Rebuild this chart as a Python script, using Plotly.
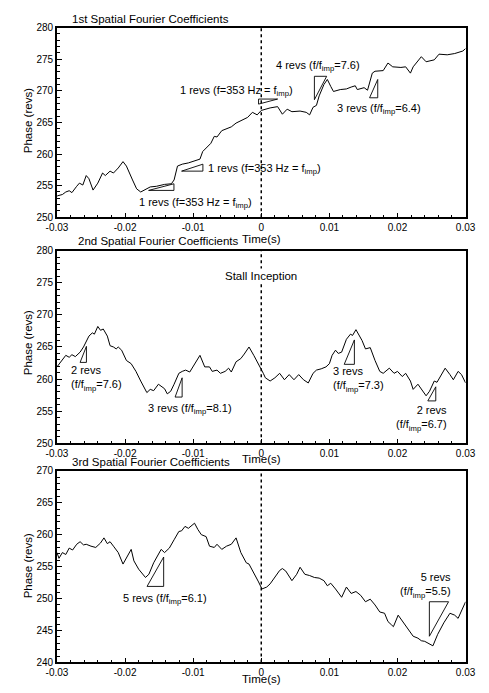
import plotly.graph_objects as go

# ---------------- data ----------------
t1 = [-0.0300, -0.0299, -0.0292, -0.0287, -0.0282, -0.0278, -0.0271, -0.0267, -0.0262, -0.0257,
      -0.0253, -0.0247, -0.0240, -0.0233, -0.0229, -0.0222, -0.0217, -0.0210, -0.0203, -0.0198,
      -0.0189, -0.0183, -0.0177, -0.0171, -0.0163, -0.0154, -0.0142, -0.0132, -0.0128, -0.0123,
      -0.0116, -0.0107, -0.0097, -0.0090, -0.0086, -0.0079, -0.0074, -0.0069, -0.0065, -0.0058,
      -0.0048, -0.0044, -0.0037, -0.0030, -0.0020, -0.0013, -0.0006, 0.0000, 0.0013, 0.0024,
      0.0031, 0.0038, 0.0045, 0.0057, 0.0066, 0.0071, 0.0076, 0.0081, 0.0085, 0.0092,
      0.0097, 0.0102, 0.0106, 0.0116, 0.0125, 0.0132, 0.0138, 0.0141, 0.0151, 0.0156,
      0.0163, 0.0167, 0.0179, 0.0186, 0.0193, 0.0205, 0.0212, 0.0219, 0.0223, 0.0235,
      0.0242, 0.0254, 0.0261, 0.0273, 0.0284, 0.0296, 0.0300]
phase1 = [253.3, 253.4, 253.6, 254.0, 254.2, 253.9, 254.9, 255.4, 255.1, 256.6,
          256.1, 254.3, 255.4, 257.0, 256.6, 257.3, 257.0, 257.8, 258.8, 258.1,
          255.9, 254.5, 254.0, 254.4, 254.8, 254.9, 255.2, 255.3, 255.9, 258.1,
          258.4, 258.6, 259.0, 259.2, 260.4, 261.2, 261.7, 262.8, 262.7, 263.7,
          264.2, 264.3, 264.9, 265.3, 265.8, 266.6, 266.2, 266.9, 267.3, 267.5,
          266.3, 267.1, 266.7, 266.8, 266.6, 266.2, 267.4, 267.7, 269.2, 271.0,
          271.8, 270.7, 269.9, 270.2, 270.3, 270.6, 270.8, 270.2, 270.5, 270.1,
          272.8, 273.1, 273.2, 274.4, 273.8, 273.7, 273.8, 272.8, 273.8, 275.4,
          274.6, 274.9, 275.8, 275.7, 275.9, 276.3, 276.7]

t2 = [-0.0300, -0.0292, -0.0287, -0.0282, -0.0278, -0.0273, -0.0266, -0.0261, -0.0257, -0.0253,
      -0.0248, -0.0245, -0.0240, -0.0236, -0.0232, -0.0226, -0.0222, -0.0217, -0.0213, -0.0210,
      -0.0205, -0.0198, -0.0191, -0.0184, -0.0177, -0.0168, -0.0163, -0.0158, -0.0151, -0.0147,
      -0.0142, -0.0138, -0.0133, -0.0128, -0.0121, -0.0116, -0.0111, -0.0105, -0.0098, -0.0090,
      -0.0083, -0.0076, -0.0072, -0.0065, -0.0060, -0.0053, -0.0048, -0.0044, -0.0037, -0.0030,
      -0.0025, -0.0018, -0.0011, -0.0004, 0.0003, 0.0006, 0.0013, 0.0020, 0.0027, 0.0034,
      0.0041, 0.0048, 0.0055, 0.0062, 0.0069, 0.0076, 0.0081, 0.0088, 0.0095, 0.0100,
      0.0104, 0.0109, 0.0113, 0.0118, 0.0125, 0.0131, 0.0134, 0.0139, 0.0148, 0.0153,
      0.0160, 0.0167, 0.0174, 0.0179, 0.0183, 0.0188, 0.0195, 0.0200, 0.0207, 0.0212,
      0.0219, 0.0223, 0.0230, 0.0237, 0.0242, 0.0247, 0.0254, 0.0258, 0.0263, 0.0270,
      0.0277, 0.0282, 0.0289, 0.0294, 0.0300]
phase2 = [261.9, 262.9, 263.7, 263.4, 263.8, 263.5, 264.2, 265.0, 266.0, 266.7,
          267.2, 267.0, 268.2, 267.6, 267.8, 266.7, 265.2, 265.0, 264.7, 265.0,
          264.5, 262.9, 262.4, 261.2, 259.7, 257.9, 258.4, 258.2, 259.2, 258.9,
          258.5, 257.7, 258.1, 259.2, 260.9, 261.2, 261.4, 261.1, 262.4, 263.7,
          261.9, 261.9, 261.2, 261.4, 260.9, 261.2, 261.7, 261.1, 262.7, 263.2,
          263.9, 265.0, 263.7, 262.4, 260.9, 260.2, 259.7, 260.2, 260.9, 259.9,
          260.7, 259.9, 260.7, 259.9, 259.4, 260.9, 261.4, 261.6, 261.9, 262.4,
          263.7, 264.5, 264.0, 264.2, 266.2, 267.0, 266.8, 267.7, 266.0, 264.7,
          264.9, 262.9, 261.2, 260.9, 261.2, 261.7, 260.9, 261.2, 260.4, 260.9,
          259.7, 258.4, 259.2, 258.1, 257.4, 258.1, 259.7, 259.5, 260.4, 261.7,
          260.7, 259.9, 261.2, 260.7, 259.4]

t3 = [-0.0300, -0.0297, -0.0292, -0.0287, -0.0282, -0.0277, -0.0271, -0.0266, -0.0261, -0.0257,
      -0.0250, -0.0243, -0.0236, -0.0231, -0.0226, -0.0222, -0.0217, -0.0210, -0.0203, -0.0198,
      -0.0191, -0.0187, -0.0180, -0.0170, -0.0165, -0.0158, -0.0151, -0.0147, -0.0142, -0.0135,
      -0.0128, -0.0121, -0.0117, -0.0112, -0.0107, -0.0102, -0.0098, -0.0093, -0.0088, -0.0081,
      -0.0076, -0.0069, -0.0065, -0.0058, -0.0051, -0.0044, -0.0037, -0.0030, -0.0022, -0.0018,
      -0.0011, -0.0004, 0.0001, 0.0008, 0.0013, 0.0020, 0.0027, 0.0031, 0.0036, 0.0045,
      0.0052, 0.0057, 0.0064, 0.0071, 0.0078, 0.0085, 0.0092, 0.0097, 0.0102, 0.0109,
      0.0118, 0.0125, 0.0132, 0.0139, 0.0146, 0.0153, 0.0160, 0.0167, 0.0174, 0.0181,
      0.0186, 0.0191, 0.0194, 0.0201, 0.0209, 0.0216, 0.0223, 0.0230, 0.0235, 0.0240,
      0.0244, 0.0252, 0.0259, 0.0268, 0.0277, 0.0284, 0.0289, 0.0296, 0.0300]
phase3 = [257.2, 256.3, 257.2, 256.9, 257.9, 257.6, 258.5, 258.9, 258.4, 258.5,
          258.2, 258.0, 258.7, 259.5, 258.6, 258.9, 258.2, 257.2, 255.4, 256.4,
          257.7, 255.9, 254.6, 253.3, 253.8, 255.6, 256.9, 257.7, 257.2, 257.9,
          259.2, 260.5, 260.6, 261.3, 261.0, 261.5, 261.8, 260.8, 260.0, 259.7,
          258.2, 258.0, 258.5, 257.7, 258.2, 258.5, 259.5, 257.2, 255.6, 255.4,
          254.1, 252.6, 251.5, 251.8, 252.3, 253.3, 254.4, 254.7, 254.3, 252.8,
          253.8, 254.9, 253.8, 253.6, 253.3, 253.2, 252.8, 252.0, 252.4, 251.5,
          250.2, 251.8, 250.8, 251.1, 250.5, 249.5, 249.9, 249.0, 247.9, 247.7,
          246.4, 245.9, 245.6, 247.4, 246.2, 245.1, 244.1, 243.8, 243.4, 243.3,
          243.1, 242.6, 244.4, 246.2, 247.7, 247.4, 246.9, 248.5, 249.5]

# slope triangles (time, phase) vertices
tri1_t = [-0.01654, -0.01282, -0.01282, -0.01654]
tri1_v = [254.25, 254.25, 255.3, 254.25]
tri2_t = [-0.0117, -0.00857, -0.00857, -0.0117]
tri2_v = [257.3, 257.3, 258.4, 257.3]
tri3_t = [-0.0004, -0.0004, 0.0024, -0.0004]
tri3_v = [267.9, 268.7, 268.7, 267.9]
tri4_t = [0.0078, 0.0078, 0.0096, 0.0078]
tri4_v = [268.6, 272.3, 272.3, 268.6]
tri5_t = [0.0159, 0.0171, 0.0171, 0.0159]
tri5_v = [268.9, 268.9, 271.8, 268.9]
tri6_t = [-0.0266, -0.02567, -0.02567, -0.0266]
tri6_v = [262.6, 262.6, 265.1, 262.6]
tri7_t = [-0.01265, -0.01162, -0.01162, -0.01265]
tri7_v = [257.2, 257.2, 260.2, 257.2]
tri8_t = [0.01218, 0.01367, 0.01367, 0.01218]
tri8_v = [262.3, 262.3, 266.1, 262.3]
tri9_t = [0.02445, 0.02562, 0.02562, 0.02445]
tri9_v = [256.6, 256.6, 258.8, 256.6]
tri10_t = [-0.01677, -0.01433, -0.01433, -0.01677]
tri10_v = [251.9, 251.9, 256.5, 251.9]
tri11_t = [0.02468, 0.02468, 0.0275, 0.02468]
tri11_v = [244.1, 249.5, 249.5, 244.1]

x_ticks = [-0.03, -0.02, -0.01, 0, 0.01, 0.02, 0.03]
x_ticktext = ["-0.03", "-0.02", "-0.01", "0", "0.01", "0.02", "0.03"]
y_ticks_12 = [250, 255, 260, 265, 270, 275, 280]
y_ticks_3 = [240, 245, 250, 255, 260, 265, 270]
stall_time = 0.0

titles = ["1st Spatial Fourier Coefficients", "2nd Spatial Fourier Coefficients",
          "3rd Spatial Fourier Coefficients"]

# ---------------- figure ----------------
W, H = 489, 693
FONT = "Liberation Sans, Arial, Helvetica, sans-serif"
fig = go.Figure()

def px_x(p):
    return p / W

def px_y(p):
    return 1 - p / H

panels = [  # (top px, bottom px)
    (22, 215), (249, 445), (473, 668)]
series = [(t1, phase1), (t2, phase2), (t3, phase3)]
tris = [[(tri1_t, tri1_v), (tri2_t, tri2_v), (tri3_t, tri3_v), (tri4_t, tri4_v), (tri5_t, tri5_v)],
        [(tri6_t, tri6_v), (tri7_t, tri7_v), (tri8_t, tri8_v), (tri9_t, tri9_v)],
        [(tri10_t, tri10_v), (tri11_t, tri11_v)]]
yranges = [[250, 280], [250, 280], [240, 270]]
yticks = [y_ticks_12, y_ticks_12, y_ticks_3]

for i in range(3):
    xa = "x" if i == 0 else f"x{i+1}"
    ya = "y" if i == 0 else f"y{i+1}"
    tt, vv = series[i]
    fig.add_trace(go.Scatter(x=tt, y=vv, mode="lines", xaxis=xa, yaxis=ya,
                             line=dict(color="black", width=1), showlegend=False,
                             hoverinfo="skip"))
    for (tx, tv) in tris[i]:
        fig.add_trace(go.Scatter(x=tx, y=tv, mode="lines", xaxis=xa, yaxis=ya,
                                 line=dict(color="black", width=0.9), showlegend=False,
                                 hoverinfo="skip"))
    top, bot = panels[i]
    axx = dict(domain=[px_x(48), px_x(475)], range=[-0.03, 0.03], anchor=ya,
               tickmode="array", tickvals=x_ticks, ticktext=x_ticktext,
               ticks="inside", ticklen=5, tickwidth=1.2, tickcolor="black",
               showline=True, linecolor="black", linewidth=1.5, mirror=True,
               showgrid=False, zeroline=False,
               minor=dict(tick0=-0.03, dtick=0.002, ticks="inside", ticklen=3,
                          tickwidth=1, tickcolor="black", showgrid=False),
               tickfont=dict(family=FONT, size=10, color="black"))
    axy = dict(domain=[px_y(bot), px_y(top)], range=yranges[i], anchor=xa,
               tickmode="array", tickvals=yticks[i],
               ticks="inside", ticklen=5, tickwidth=1.2, tickcolor="black",
               showline=True, linecolor="black", linewidth=1.5, mirror=True,
               showgrid=False, zeroline=False,
               minor=dict(tick0=yranges[i][0], dtick=1, ticks="inside", ticklen=3,
                          tickwidth=1, tickcolor="black", showgrid=False),
               tickfont=dict(family=FONT, size=10, color="black"))
    fig.update_layout(**{("xaxis" if i == 0 else f"xaxis{i+1}"): axx,
                         ("yaxis" if i == 0 else f"yaxis{i+1}"): axy})
    fig.add_shape(type="line", xref=xa, yref=f"{ya} domain", x0=stall_time, x1=stall_time,
                  y0=0, y1=1, line=dict(color="black", width=1.5, dash="dot"))

ann = []
def A(text, x, y, xref="paper", yref="paper", xanchor="center", align="center", size=11,
      angle=0, bg=None):
    d = dict(text=text, x=x, y=y, xref=xref, yref=yref, xanchor=xanchor, yanchor="middle",
             align=align, showarrow=False, textangle=angle,
             font=dict(family=FONT, size=size, color="black"))
    if bg:
        d["bgcolor"] = bg
        d["borderpad"] = 1
    ann.append(d)

# panel titles
A(titles[0], px_x(62), px_y(13), xanchor="left", size=11.5)
A(titles[1], px_x(68), px_y(239), xanchor="left", size=11.5)
A(titles[2], px_x(62), px_y(464), xanchor="left", size=11.5)
# axis titles
for yc in (117, 343, 570):
    A("Phase (revs)", px_x(18), px_y(yc), angle=-90, size=11.5)
for yc in (237, 461, 685):
    A("Time(s)", px_x(262), px_y(yc), size=11.5)

fimp = "f<sub>imp</sub>"
# panel 1
A(f"1 revs (f=353 Hz = {fimp})", -0.0097, 252.2, "x", "y")
A(f"1 revs (f=353 Hz = {fimp})", -0.0081, 257.6, "x", "y", xanchor="left")
A(f"1 revs (f=353 Hz = {fimp})", -0.0037, 269.9, "x", "y")
A(f"4 revs (f/{fimp}=7.6)", 0.0083, 273.9, "x", "y")
A(f"3 revs (f/{fimp}=6.4)", 0.0173, 267.1, "x", "y")
# panel 2
A("Stall Inception", 0.0, 276.1, "x2", "y2", size=11.5, bg="white")
A(f"2 revs<br>(f/{fimp}=7.6)", -0.0282, 260.1, "x2", "y2", xanchor="left", align="left")
A(f"3 revs (f/{fimp}=8.1)", -0.0104, 255.4, "x2", "y2")
A(f"3 revs<br>(f/{fimp}=7.3)", 0.0102, 259.9, "x2", "y2", xanchor="left", align="left")
A(f"2 revs<br>(f/{fimp}=6.7)", 0.0275, 253.9, "x2", "y2", xanchor="right", align="right")
# panel 3
A(f"5 revs (f/{fimp}=6.1)", -0.0142, 250.0, "x3", "y3")
A(f"5 revs<br>(f/{fimp}=5.5)", 0.0281, 252.1, "x3", "y3", xanchor="right", align="right")

fig.update_layout(width=W, height=H, margin=dict(l=0, r=0, t=0, b=0),
                  paper_bgcolor="white", plot_bgcolor="white", annotations=ann,
                  font=dict(family=FONT, color="black"))

fig.write_html("out.html",
               config={"displayModeBar": False},
               post_script="document.body.style.margin='0px';"
                           "document.documentElement.style.overflow='hidden';")
